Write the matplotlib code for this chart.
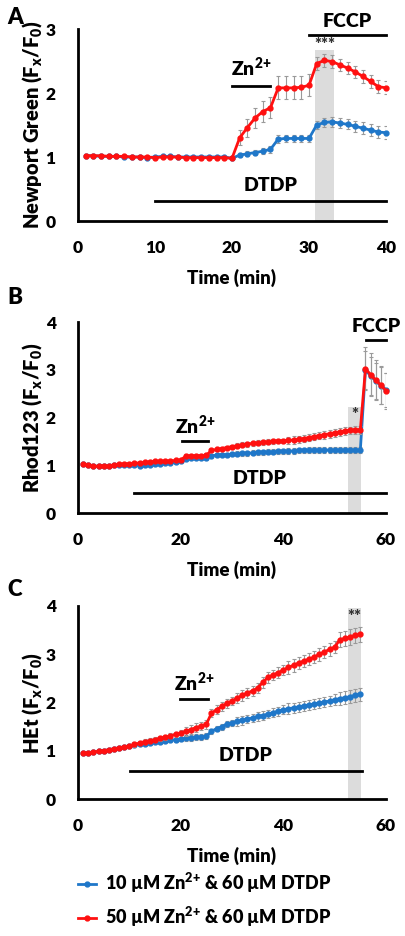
import matplotlib
matplotlib.use("Agg")
import matplotlib.pyplot as plt
import numpy as np
from matplotlib.lines import Line2D

plt.rcParams['font.family'] = ['Lato', 'DejaVu Sans']
plt.rcParams['font.weight'] = 'heavy'
plt.rcParams['mathtext.fontset'] = 'custom'
plt.rcParams['mathtext.rm'] = 'Lato:heavy'
plt.rcParams['mathtext.it'] = 'Lato:heavy'
plt.rcParams['mathtext.bf'] = 'Lato:heavy'

BLUE = '#1f77c9'
RED = '#ff1010'
ERR = '#9a9a9a'
WT = 'heavy'

# ---------------- Panel A ----------------
tA = list(range(1, 41))
blueA = [1.02, 1.02, 1.01, 1.01, 1.01, 1.00, 1.00, 1.00, 0.99, 1.00,
         1.01, 1.01, 1.00, 1.00, 1.00, 1.00, 1.00, 1.00, 1.00, 0.98,
         1.03, 1.05, 1.07, 1.09, 1.12, 1.28, 1.29, 1.29, 1.29, 1.29,
         1.50, 1.54, 1.55, 1.53, 1.51, 1.48, 1.45, 1.42, 1.39, 1.38]
redA = [1.02, 1.02, 1.02, 1.01, 1.01, 1.01, 1.00, 1.00, 1.00, 0.99,
        1.00, 1.00, 1.00, 0.99, 0.99, 0.99, 0.99, 0.99, 0.99, 0.98,
        1.30, 1.46, 1.61, 1.71, 1.77, 2.08, 2.08, 2.08, 2.09, 2.12,
        2.46, 2.51, 2.49, 2.44, 2.39, 2.33, 2.26, 2.18, 2.10, 2.08]
blueA_err = [0.02] * 20 + [0.03, 0.04, 0.04, 0.05, 0.05, 0.06, 0.06, 0.06, 0.06, 0.06,
                           0.07, 0.07, 0.08, 0.08, 0.08, 0.09, 0.09, 0.09, 0.10, 0.10]
redA_err = [0.02] * 20 + [0.12, 0.14, 0.15, 0.16, 0.16, 0.18, 0.18, 0.18, 0.18, 0.17,
                          0.10, 0.10, 0.10, 0.09, 0.09, 0.09, 0.10, 0.10, 0.10, 0.10]

# ---------------- Panel B ----------------
tB = list(range(1, 61))
blueB = [1.02, 1.00, 0.98, 0.98, 0.98, 0.98, 1.00, 1.00, 1.00, 1.00,
         1.00, 0.99, 1.00, 1.01, 1.02, 1.03, 1.04, 1.05, 1.06, 1.08,
         1.14, 1.15, 1.16, 1.16, 1.16, 1.20, 1.21, 1.22, 1.22, 1.23,
         1.24, 1.25, 1.25, 1.26, 1.27, 1.27, 1.28, 1.28, 1.29, 1.29,
         1.30, 1.30, 1.31, 1.31, 1.32, 1.32, 1.32, 1.32, 1.32, 1.32,
         1.32, 1.32, 1.32, 1.32, 1.32, 3.00, 2.87, 2.77, 2.67, 2.58]
redB = [1.02, 1.00, 0.98, 0.98, 0.99, 0.98, 1.01, 1.02, 1.03, 1.03,
        1.04, 1.05, 1.06, 1.07, 1.08, 1.08, 1.09, 1.09, 1.10, 1.11,
        1.19, 1.20, 1.20, 1.20, 1.21, 1.31, 1.33, 1.35, 1.37, 1.39,
        1.41, 1.43, 1.44, 1.46, 1.47, 1.48, 1.49, 1.50, 1.51, 1.51,
        1.52, 1.53, 1.54, 1.56, 1.58, 1.60, 1.62, 1.64, 1.66, 1.68,
        1.70, 1.72, 1.73, 1.74, 1.74, 3.02, 2.90, 2.78, 2.68, 2.56]
blueB_err = [0.02] * 10 + [0.03] * 10 + [0.04] * 10 + [0.05] * 10 + [0.06] * 15 + [0.40, 0.40, 0.38, 0.38, 0.36]
redB_err = [0.02] * 10 + [0.03] * 10 + [0.04] * 10 + [0.05] * 10 + [0.08] * 15 + [0.45, 0.45, 0.42, 0.40, 0.38]

# ---------------- Panel C ----------------
tC = list(range(1, 56))
blueC = [0.95, 0.96, 0.97, 0.99, 1.00, 1.02, 1.04, 1.06, 1.08, 1.10,
         1.12, 1.13, 1.15, 1.16, 1.18, 1.19, 1.20, 1.22, 1.23, 1.24,
         1.26, 1.27, 1.28, 1.29, 1.30, 1.40, 1.46, 1.50, 1.55, 1.58,
         1.61, 1.63, 1.66, 1.68, 1.71, 1.73, 1.76, 1.79, 1.82, 1.85,
         1.87, 1.89, 1.91, 1.93, 1.95, 1.97, 1.99, 2.01, 2.03, 2.06,
         2.08, 2.10, 2.12, 2.15, 2.17]
redC = [0.95, 0.96, 0.97, 0.99, 1.00, 1.02, 1.04, 1.06, 1.08, 1.10,
        1.13, 1.16, 1.19, 1.21, 1.23, 1.26, 1.28, 1.31, 1.34, 1.37,
        1.40, 1.44, 1.48, 1.51, 1.55, 1.78, 1.85, 1.92, 1.98, 2.03,
        2.09, 2.15, 2.20, 2.24, 2.30, 2.42, 2.52, 2.57, 2.62, 2.67,
        2.73, 2.77, 2.82, 2.86, 2.90, 2.94, 3.00, 3.05, 3.10, 3.15,
        3.30, 3.33, 3.36, 3.39, 3.41]
blueC_err = [0.01] * 10 + [0.04] * 10 + [0.06] * 10 + [0.09] * 10 + [0.11] * 10 + [0.13] * 5
redC_err = [0.01] * 10 + [0.05] * 10 + [0.09] * 10 + [0.11] * 10 + [0.13] * 10 + [0.16] * 5

legend_labels = ['10 µM Zn$^{2{+}}$ & 60 µM DTDP', '50 µM Zn$^{2{+}}$ & 60 µM DTDP']

W, H = 406, 936
fig = plt.figure(figsize=(W / 100, H / 100), dpi=100)


def mk_ax(l, t, r, b):
    return fig.add_axes([l / W, 1 - b / H, (r - l) / W, (b - t) / H])


def style(ax, xlim, ylim, xticks, yticks, ylabel):
    ax.set_xlim(*xlim)
    ax.set_ylim(*ylim)
    ax.set_xticks(xticks)
    ax.set_yticks(yticks)
    ax.tick_params(axis='x', length=0, labelsize=12.5, pad=14)
    ax.tick_params(axis='y', length=0, labelsize=12.5, pad=16)
    for lab in ax.get_xticklabels() + ax.get_yticklabels():
        lab.set_fontweight(WT)
    for s in ['top', 'right']:
        ax.spines[s].set_visible(False)
    for s in ['left', 'bottom']:
        ax.spines[s].set_linewidth(2)
    ax.set_xlabel('Time (min)', fontsize=13.5, fontweight=WT, labelpad=9)
    ax.set_ylabel(ylabel, fontsize=14.5, fontweight=WT, labelpad=1)
    ax.patch.set_alpha(0)


def series(ax, t, y, e, color, z):
    ax.errorbar(t, y, yerr=e, fmt='none', ecolor=ERR, elinewidth=0.8, capsize=1.5, capthick=0.8, zorder=z - 1)
    ax.plot(t, y, '-o', color=color, lw=2, ms=3.5, zorder=z, clip_on=False)


def bar(ax, x0, x1, y, text=None, ty=None, fs=14):
    ax.plot([x0, x1], [y, y], color='black', lw=2, clip_on=False, zorder=6)
    if text:
        ax.text((x0 + x1) / 2, ty, text, ha='center', va='bottom', fontsize=fs, fontweight=WT, clip_on=False)


# Panel A
axA = mk_ax(78, 29, 386, 221)
style(axA, (0, 40), (0, 3), [0, 10, 20, 30, 40], [0, 1, 2, 3], 'Newport Green (F$_x$/F$_0$)')
axA.axvspan(30.8, 33.2, ymin=0, ymax=2.67 / 3, color='#dcdcdc', zorder=0, lw=0)
series(axA, tA, blueA, blueA_err, BLUE, 4)
series(axA, tA, redA, redA_err, RED, 5)
bar(axA, 20, 25, 2.11, 'Zn$^{2{+}}$', 2.22, 14)
bar(axA, 30, 40, 2.91, 'FCCP', 2.98)
bar(axA, 10, 40, 0.31, 'DTDP', 0.42)
axA.text(32, 2.62, '***', ha='center', va='bottom', fontsize=12, color='#333333')
fig.text(15 / W, 1 - 17 / H, 'A', fontsize=16, fontweight=WT, ha='center', va='center')

# Panel B
axB = mk_ax(78, 322, 386, 513)
style(axB, (0, 60), (0, 4), [0, 20, 40, 60], [0, 1, 2, 3, 4], 'Rhod123 (F$_x$/F$_0$)')
axB.axvspan(52.6, 55.1, ymin=0, ymax=2.23 / 4, color='#dcdcdc', zorder=0, lw=0)
series(axB, tB, blueB, blueB_err, BLUE, 4)
series(axB, tB, redB, redB_err, RED, 5)
bar(axB, 20.2, 25.3, 1.5, 'Zn$^{2{+}}$', 1.6, 14)
bar(axB, 56.1, 60, 3.63, 'FCCP', 3.72)
bar(axB, 10.9, 60, 0.42, 'DTDP', 0.55)
axB.text(53.85, 1.88, '*', ha='center', va='bottom', fontsize=12, color='#333333')
fig.text(15 / W, 1 - 298 / H, 'B', fontsize=16, fontweight=WT, ha='center', va='center')

# Panel C
axC = mk_ax(78, 606, 386, 799)
style(axC, (0, 60), (0, 4), [0, 20, 40, 60], [0, 1, 2, 3, 4], 'HEt (F$_x$/F$_0$)')
axC.axvspan(52.6, 55.1, ymin=0, ymax=3.95 / 4, color='#dcdcdc', zorder=0, lw=0)
series(axC, tC, blueC, blueC_err, BLUE, 4)
series(axC, tC, redC, redC_err, RED, 5)
bar(axC, 19.9, 25.3, 2.07, 'Zn$^{2{+}}$', 2.18, 14)
bar(axC, 10.1, 55.3, 0.59, 'DTDP', 0.72)
axC.text(53.85, 3.6, '**', ha='center', va='bottom', fontsize=12, color='#333333')
fig.text(15 / W, 1 - 590 / H, 'C', fontsize=16, fontweight=WT, ha='center', va='center')

# Legend
handles = [Line2D([0], [0], color=BLUE, lw=2, marker='o', ms=3.5),
           Line2D([0], [0], color=RED, lw=2, marker='o', ms=3.5)]
fig.legend(handles, legend_labels, loc='center', bbox_to_anchor=(0.505, 1 - 900 / H),
           frameon=False, handlelength=1.0, handletextpad=0.5, labelspacing=0.55,
           prop={'weight': WT, 'size': 13})

fig.savefig('out.png', dpi=100)
